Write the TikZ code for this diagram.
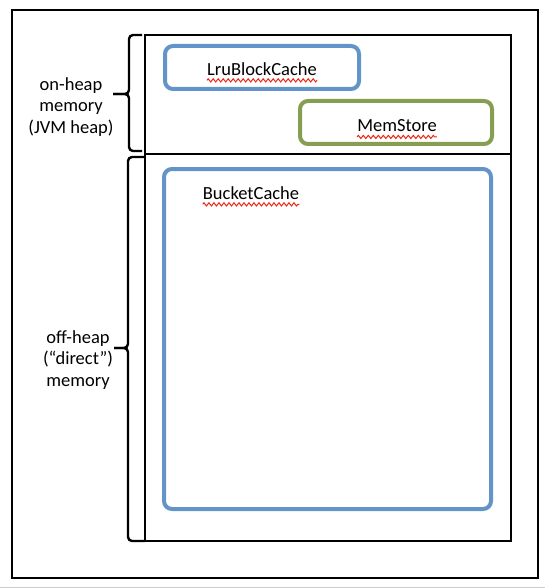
\documentclass[tikz,border=0pt]{standalone}
\usepackage{fontspec}
\setmainfont{Carlito}
\usetikzlibrary{positioning,decorations.pathmorphing}
\definecolor{cacheblue}{RGB}{98,148,200}
\definecolor{storegreen}{RGB}{134,158,82}
\definecolor{spellred}{RGB}{235,40,20}

\begin{document}
\begin{tikzpicture}[x=1pt,y=-1pt,
    memframe/.style={draw,line width=1.4pt,inner sep=0pt},
    cachebox/.style={draw=cacheblue,line width=4pt,rounded corners=8pt,inner sep=0pt},
    storebox/.style={draw=storegreen,line width=4pt,rounded corners=8pt,inner sep=0pt},
    cachename/.style={inner sep=0pt,font=\fontsize{18.5}{21.5}\selectfont},
    side/.style={align=center,font=\fontsize{18.5}{21.5}\selectfont},
    squiggle/.style={draw=spellred,line width=1pt,decorate,
        decoration={zigzag,segment length=5pt,amplitude=1.6pt}},
    curly/.style={draw,line width=2.4pt,rounded corners=4pt}]
    \useasboundingbox (0,0) rectangle (545,588);
    \draw[black!20] (0,587) -- (545,587);

    % frames
    \node[memframe,line width=2pt,minimum width=526pt,minimum height=568pt] (page) at (275,294) {};
    \node[memframe,minimum width=366pt,minimum height=506pt] (heap) at (328,288) {};
    \draw[line width=1.4pt] (heap.west |- 0,154) -- (heap.east |- 0,154);

    % caches
    \node[cachebox,minimum width=194pt,minimum height=43pt] (lru_box)    at (262,67.5)  {};
    \node[storebox,minimum width=192pt,minimum height=43pt] (store_box)  at (396,122.5) {};
    \node[cachebox,minimum width=327pt,minimum height=340pt] (bucket_box) at (327.5,339) {};

    \node[cachename] (lru)    at (262,69)  {LruBlockCache};
    \node[cachename] (store)  at (397,126) {MemStore};
    \node[cachename] (bucket) at (251,193) {BucketCache};

    \foreach \t in {lru,store,bucket}
        \path[squiggle] ([yshift=-5pt]\t.base west) -- ([yshift=-5pt]\t.base east);

    % braces
    \coordinate (on_top)    at (142,35);
    \coordinate (on_bot)    at (142,151);
    \coordinate (on_spine)  at (129,94);
    \coordinate (on_tip)    at (113,94);
    \coordinate (off_top)   at (144,157);
    \coordinate (off_bot)   at (145,541);
    \coordinate (off_spine) at (128,348);
    \coordinate (off_tip)   at (114,348);
    \foreach \b in {on,off} {
        \draw[curly] (\b_top) -- (\b_top -| \b_spine) -- (\b_spine) -- (\b_tip);
        \draw[curly] (\b_tip) -- (\b_spine) -- (\b_bot -| \b_spine) -- (\b_bot);
    }

    \node[side] (on_heap)  at (71,107) {on-heap\\memory\\(JVM heap)};
    \node[side] (off_heap) at (78,360) {off-heap\\(“direct”)\\memory};
\end{tikzpicture}
\end{document}
